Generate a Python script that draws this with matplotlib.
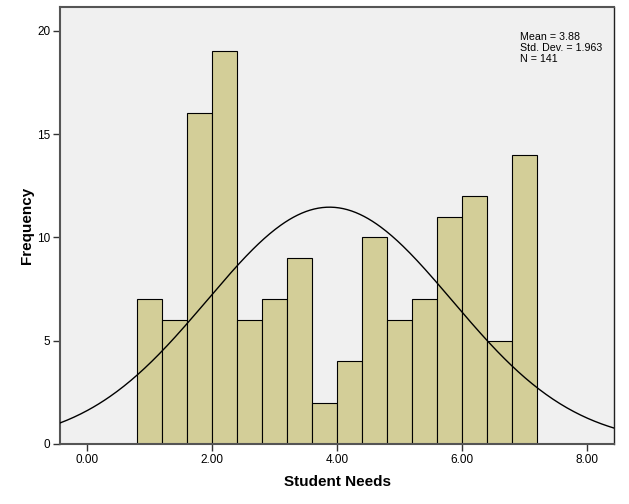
import numpy as np
import matplotlib
matplotlib.use("Agg")
import matplotlib.pyplot as plt

plt.rcParams['font.family'] = ['Liberation Sans', 'DejaVu Sans']

bin_edges = [0.8, 1.2, 1.6, 2.0, 2.4, 2.8, 3.2, 3.6, 4.0, 4.4, 4.8, 5.2, 5.6, 6.0, 6.4, 6.8, 7.2]
counts = [7, 6, 16, 19, 6, 7, 9, 2, 4, 10, 6, 7, 11, 12, 5, 14]
mean = 3.88
std = 1.963
n = 141
xticks = [0, 2, 4, 6, 8]
yticks = [0, 5, 10, 15, 20]

fig = plt.figure(figsize=(6.29, 5.04), dpi=100)
ax = fig.add_axes([60/629, 1-444/504, 554/629, 437/504])
ax.set_facecolor('#F0F0F0')

lefts = bin_edges[:-1]
widths = np.diff(bin_edges)
ax.bar(lefts, counts, width=widths, align='edge', color='#D3CE98',
       edgecolor='black', linewidth=0.8, zorder=2)

xmin, xmax = -0.44, 8.44
xs = np.linspace(xmin, xmax, 400)
bw = widths[0]
ys = n * bw / (std * np.sqrt(2*np.pi)) * np.exp(-0.5*((xs-mean)/std)**2)
ax.plot(xs, ys, color='black', linewidth=1.0, zorder=3)

ax.set_xlim(xmin, xmax)
ax.set_ylim(0, 21.15)
ax.set_xticks(xticks)
ax.set_xticklabels([f"{v:.2f}" for v in xticks], fontsize=8.5)
ax.set_yticks(yticks)
ax.set_yticklabels([str(v) for v in yticks], fontsize=8.5)
ax.tick_params(direction='out', length=5, width=1, color='#333333', pad=2)
for s in ['left', 'top', 'bottom']:
    ax.spines[s].set_color('#555555')
    ax.spines[s].set_linewidth(1.5)
ax.spines['right'].set_color('#222222')
ax.spines['right'].set_linewidth(1.0)

ax.set_xlabel('Student Needs', fontsize=11, fontweight='bold', labelpad=7)
ax.set_ylabel('Frequency', fontsize=11, fontweight='bold', labelpad=2)

ax.text(0.831, 0.943, f"Mean = {mean:.2f}\nStd. Dev. = {std:.3f}\nN = {n}",
        transform=ax.transAxes, fontsize=7.7, va='top', ha='left', linespacing=1.1)

fig.savefig('out.png', dpi=100, facecolor='white')
